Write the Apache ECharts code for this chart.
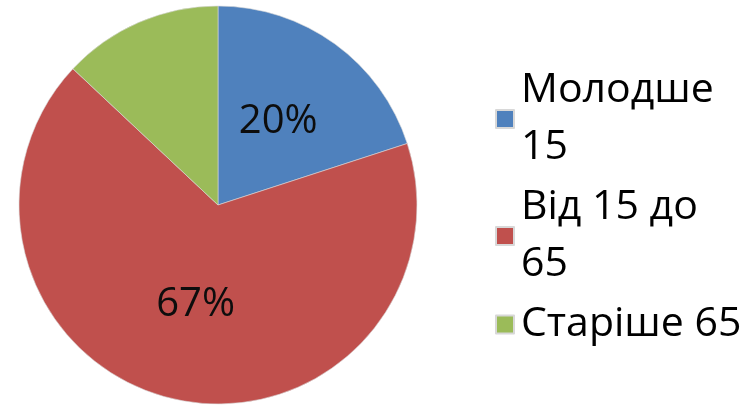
<!DOCTYPE html>
<html><head><meta charset="utf-8">
<script src="https://cdn.jsdelivr.net/npm/echarts@6/dist/echarts.min.js"></script>
<style>html,body{margin:0;padding:0;background:#fff}#c{width:746px;height:405px}</style>
</head><body><div id="c"></div>
<script>
const categories = ['Молодше 15', 'Від 15 до 65', 'Старіше 65'];
const legendLabels = ['Молодше\n15', 'Від 15 до\n65', 'Старіше 65'];
const values = [20, 67, 13];
const showLabel = [true, true, false];
const colors = ['#4F81BD', '#C0504D', '#9BBB59'];

const chart = echarts.init(document.getElementById('c'), null, {renderer: 'canvas'});
chart.setOption({
  animation: false,
  color: colors,
  legend: {
    orient: 'vertical',
    left: 495,
    top: 62,
    padding: 0,
    itemWidth: 18,
    itemHeight: 18,
    itemGap: 3,
    icon: 'rect',
    formatter: function (name) { return legendLabels[categories.indexOf(name)]; },
    textStyle: {fontFamily: 'Open Sans', fontSize: 41, lineHeight: 57, color: '#000', padding: [0, 0, 0, 2]},
    data: categories
  },
  series: [{
    type: 'pie',
    center: [218, 205],
    radius: 199,
    startAngle: 90,
    clockwise: true,
    avoidLabelOverlap: false,
    itemStyle: {borderColor: '#d8d8d8', borderWidth: 0.6},
    label: {
      position: 'inside',
      formatter: '{c}%',
      fontFamily: 'Open Sans',
      fontSize: 40,
      color: '#0d0d0d'
    },
    labelLine: {show: false},
    emphasis: {disabled: true},
    data: categories.map((n, i) => ({name: n, value: values[i], label: {show: showLabel[i]}}))
  }]
});
</script></body></html>
